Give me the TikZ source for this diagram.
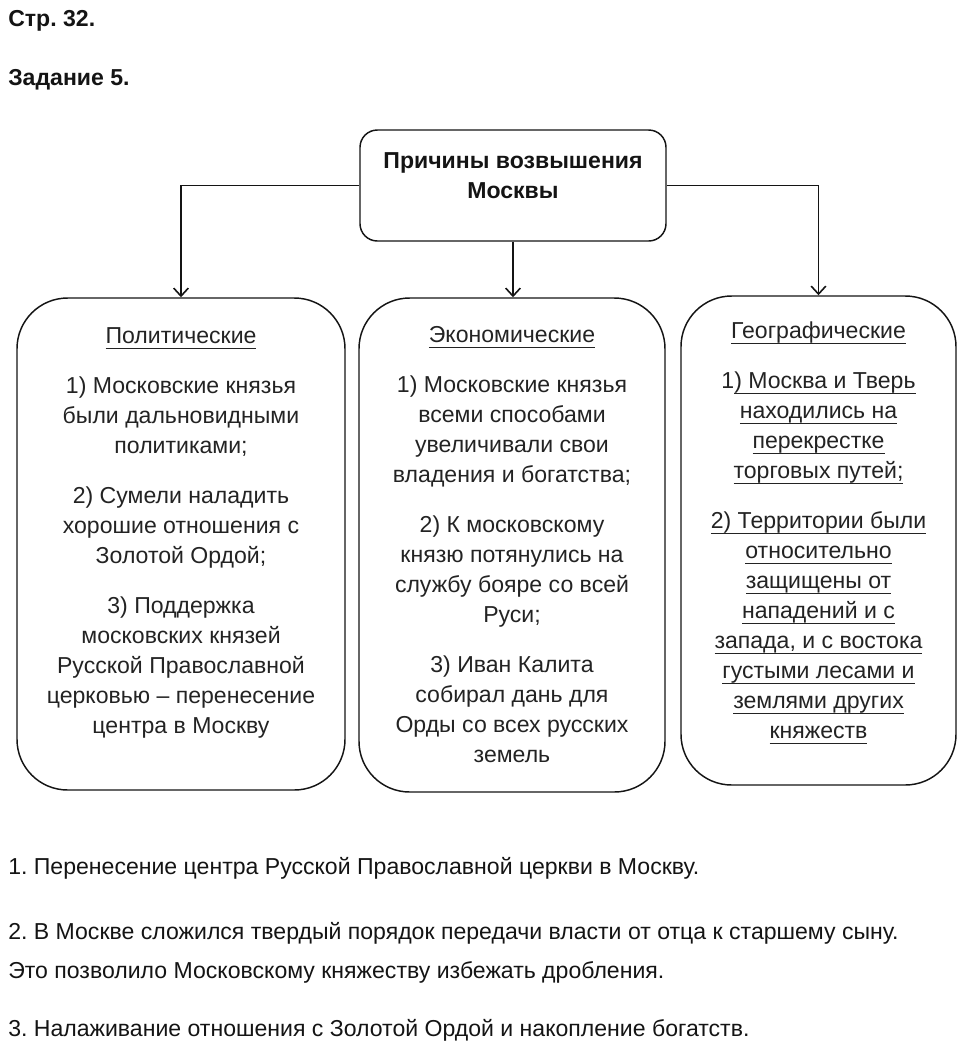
\documentclass[tikz,border=0pt]{standalone}
\usepackage{fontspec}
\setmainfont{Liberation Sans}
\usetikzlibrary{arrows.meta,positioning,calc}
\definecolor{ink}{RGB}{20,20,20}
\definecolor{txt}{RGB}{35,35,35}
\newcommand{\ulln}[1]{\setbox0=\hbox{#1}\rlap{\rule[-4pt]{\wd0}{0.75pt}}\box0}
\frenchspacing
\tikzset{
  arr/.style={-{Straight Barb[length=6pt,width=11pt]},line width=1.2pt,draw=ink},
  bigbox/.style={draw=ink,line width=1.1pt,rounded corners=38pt,inner sep=0pt},
  headbox/.style={draw=ink,line width=1.1pt,rounded corners=13pt,inner sep=0pt,minimum width=229.5pt,minimum height=83.25pt},
  body/.style={font=\fontsize{17.3}{22.5}\selectfont,align=center,text=txt,anchor=north,inner sep=0pt},
  plain/.style={font=\fontsize{17.3}{20}\selectfont,anchor=base west,inner sep=0pt,text=ink}
}
\begin{document}
\begin{tikzpicture}[x=0.75pt,y=-0.75pt]
  \useasboundingbox (0,0) rectangle (966,1058);
  \node[plain,font=\fontsize{17.3}{20}\selectfont\bfseries] (page) at (8,26) {Стр. 32.};
  \node[plain,font=\fontsize{17.3}{20}\selectfont\bfseries] (task) at (8,85) {Задание 5.};

  % main question
  \node[headbox] (cause) at (513,185.5) {};
  \node[body,font=\fontsize{17.3}{22.5}\selectfont\bfseries,text=ink] (causetxt) at (513,152.5) {Причины возвышения\\Москвы};

  % three groups of reasons
  \node[bigbox,minimum width=246pt,minimum height=369pt] (pol) at (181,544) {};
  \node[bigbox,minimum width=229.5pt,minimum height=370.5pt] (eco) at (512,545) {};
  \node[bigbox,minimum width=206.25pt,minimum height=366.75pt] (geo) at (818.5,540.5) {};

  \draw[arr] (cause.west) -| (pol.north);
  \draw[arr] (cause.south) -- (cause.south |- eco.north);
  \draw[arr] (cause.east) -| (geo.north);

  \node[body] (poltxt) at (181,327.5) {\ulln{Политические}\\[15pt]
    1) Московские князья\\были дальновидными\\политиками;\\[15pt]
    2) Сумели наладить\\хорошие отношения с\\Золотой Ордой;\\[15pt]
    3) Поддержка\\московских князей\\Русской Православной\\церковью – перенесение\\центра в Москву};
  \node[body] (ecotxt) at (512,326.5) {\ulln{Экономические}\\[15pt]
    1) Московские князья\\всеми способами\\увеличивали свои\\владения и богатства;\\[15pt]
    2) К московскому\\князю потянулись на\\службу бояре со всей\\Руси;\\[15pt]
    3) Иван Калита\\собирал дань для\\Орды со всех русских\\земель};
  \node[body] (geotxt) at (818.5,321.5) {\ulln{Географические}\\[15pt]
    1\ulln{) Москва и Тверь}\\\ulln{находились на}\\\ulln{перекрестке}\\\ulln{торговых путей;}\\[15pt]
    \ulln{2) Территории были}\\\ulln{относительно}\\\ulln{защищены от}\\\ulln{нападений и с}\\\ulln{запада, и с востока}\\\ulln{густыми лесами и}\\\ulln{землями других}\\\ulln{княжеств}};

  % answers below
  \node[plain] (a1) at (8,874) {1. Перенесение центра Русской Православной церкви в Москву.};
  \node[plain] (a2) at (8,939) {2. В Москве сложился твердый порядок передачи власти от отца к старшему сыну.};
  \node[plain] (a2b) at (8,978) {Это позволило Московскому княжеству избежать дробления.};
  \node[plain] (a3) at (8,1036) {3. Налаживание отношения с Золотой Ордой и накопление богатств.};
\end{tikzpicture}
\end{document}
